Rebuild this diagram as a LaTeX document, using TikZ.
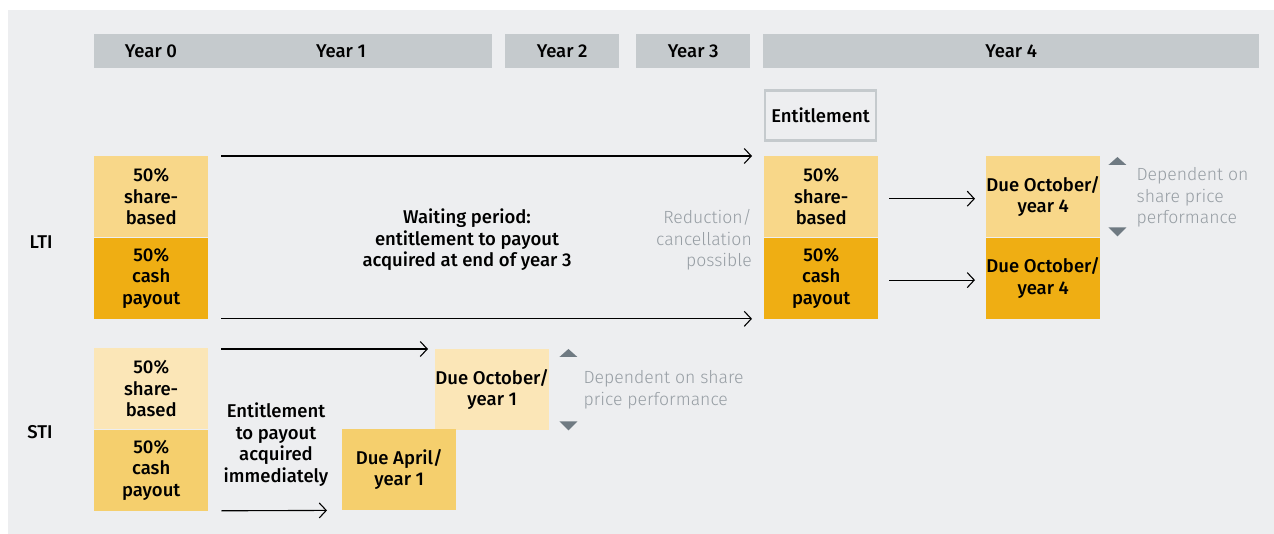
\documentclass[tikz,border=0pt]{standalone}
\usepackage{fontspec}
\setmainfont{Fira Sans}[BoldFont={Fira Sans Medium}]
\newfontfamily\lightfont{Fira Sans Light}
\definecolor{bgc}{HTML}{EDEEF0}
\definecolor{barc}{HTML}{C5CACD}
\definecolor{ltlight}{HTML}{F8D789}
\definecolor{ltdark}{HTML}{EFAE13}
\definecolor{stlight}{HTML}{FBE6B7}
\definecolor{stmid}{HTML}{F5CF6D}
\definecolor{hintc}{HTML}{979EA4}
\definecolor{tric}{HTML}{6F7A82}
\newcommand{\bodyfont}{\fontsize{18.5}{21.5}\selectfont}
\usetikzlibrary{arrows.meta, positioning}

\begin{document}
\begin{tikzpicture}[x=1pt, y=-1pt,
  every node/.style={inner sep=0pt, font=\bodyfont},
  lbl/.style={font=\bodyfont\bfseries},
  bar/.style={fill=barc, anchor=north west, minimum height=34, font=\bodyfont\bfseries},
  box/.style={anchor=north west, minimum width=114, minimum height=81, align=center, font=\bodyfont\bfseries},
  note/.style={align=center, font=\bodyfont\bfseries},
  hint/.style={text=hintc, align=left, font=\fontsize{17.6}{21.5}\selectfont\lightfont},
  arr/.style={-{Straight Barb[length=7pt, width=15pt]}, line width=1.1pt},
  tri/.style={fill=tric}]
\useasboundingbox (0,0) rectangle (1274,534);
\fill[bgc] (8,10) rectangle (1274,534);

% time line
\node[bar, minimum width=398] (bar01) at (94,34) {};
\node[lbl] (yr0) at (151,51) {Year 0};
\node[lbl] (yr1) at (341,51) {Year 1};
\foreach \x/\w/\name/\txt in {505/114/bar2/Year 2, 636/114/bar3/Year 3, 763/496/bar4/Year 4} {
  \node[bar, minimum width=\w] (\name) at (\x,34) {\txt};
}

% LTI
\node[lbl] (lti) at (41,242) {LTI};
\node[box, fill=ltlight] (ltishare) at (94,156) {50\%\\share-\\based};
\node[box, fill=ltdark, below=0pt of ltishare] (lticash) {50\%\\cash\\payout};
\node[note] (wait) at (467,240) {Waiting period:\\entitlement to payout\\acquired at end of year 3};
\node[hint, align=right, anchor=east] (reduc) at (752,240) {Reduction/\\cancellation\\possible};
\node[draw=barc, line width=2.5pt, minimum width=111, minimum height=50, lbl] (entit) at (820.5,115.5) {Entitlement};
\node[box, fill=ltlight] (y4share) at (764,156) {50\%\\share-\\based};
\node[box, fill=ltdark, below=0pt of y4share] (y4cash) {50\%\\cash\\payout};
\node[box, fill=ltlight] (due4s) at (986,156) {Due October/\\year 4};
\node[box, fill=ltdark, below=0pt of due4s] (due4c) {Due October/\\year 4};
\node[hint, anchor=west] (dep4) at ([xshift=36pt, yshift=-1pt]due4s.east) {Dependent on\\share price\\performance};

\draw[arr] ([xshift=13pt]ltishare.north east) -- ([xshift=-12pt]y4share.north west);
\draw[arr] ([xshift=13pt]lticash.south east) -- ([xshift=-12pt]y4cash.south west);
\draw[arr] ([xshift=11pt, yshift=-2pt]y4share.east) -- ([xshift=-11pt, yshift=-2pt]due4s.west);
\draw[arr] ([xshift=11pt, yshift=-2pt]y4cash.east) -- ([xshift=-11pt, yshift=-2pt]due4c.west);
\fill[tri] ([shift={(8,9)}]due4s.north east) -- ++(9,-8) -- ++(9,8) -- cycle;
\fill[tri] ([shift={(8,-10)}]due4s.south east) -- ++(9,9) -- ++(9,-9) -- cycle;

% STI
\node[lbl] (sti) at (40,432) {STI};
\node[box, fill=stlight] (stishare) at (94,348) {50\%\\share-\\based};
\node[box, fill=stmid, below=0pt of stishare] (sticash) {50\%\\cash\\payout};
\node[note] (immed) at (276,444.5) {Entitlement\\to payout\\acquired\\immediately};
\node[box, fill=stlight] (due1s) at (435,349) {Due October/\\year 1};
\node[box, fill=stmid] (due1c) at (342,429) {Due April/\\year 1};
\node[hint, anchor=west] (dep1) at ([xshift=34pt]due1s.east) {Dependent on share\\price performance};

\draw[arr] ([xshift=13pt, yshift=-1pt]stishare.north east) -- ([xshift=-7pt]due1s.north west);
\draw[arr] ([xshift=13pt]sticash.south east) -- ([xshift=-15pt]due1c.south west);
\fill[tri] ([shift={(10,8)}]due1s.north east) -- ++(9,-8) -- ++(9,8) -- cycle;
\fill[tri] ([shift={(10,-9)}]due1s.south east) -- ++(9,9) -- ++(9,-9) -- cycle;
\end{tikzpicture}
\end{document}
